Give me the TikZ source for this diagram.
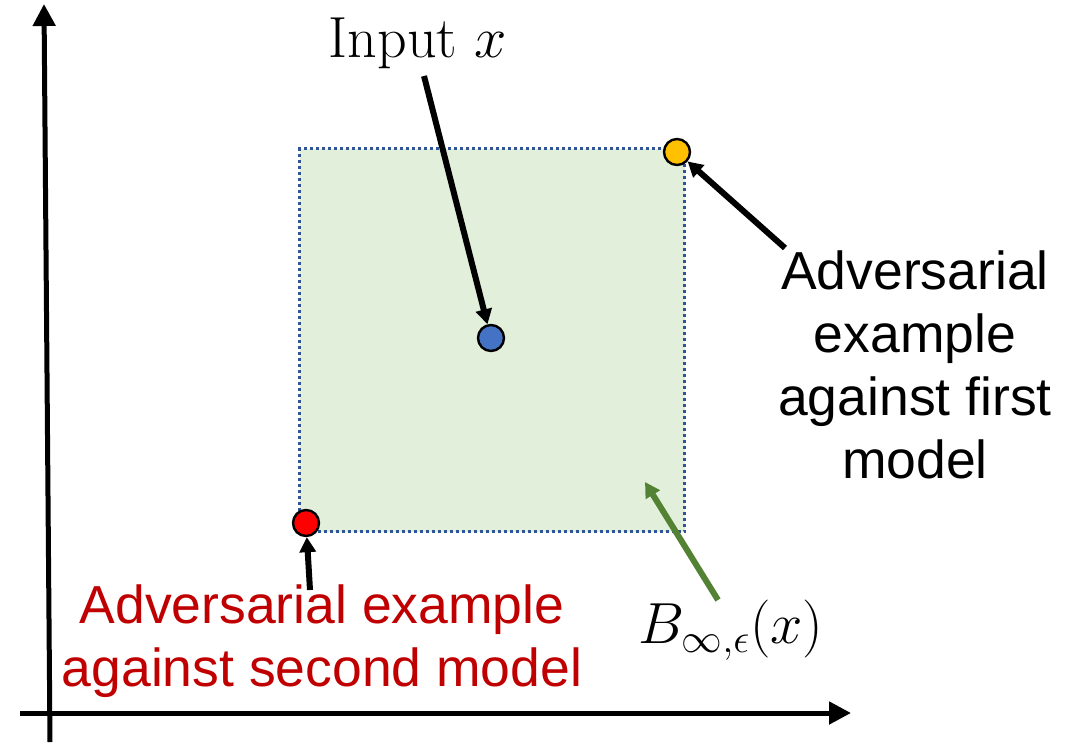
\RequirePackage{fix-cm}
\documentclass[tikz,border=0pt]{standalone}
\usepackage{fontspec}
\setsansfont{Liberation Sans}
\usetikzlibrary{arrows.meta}
\definecolor{boxfill}{HTML}{E2EFDA}
\definecolor{boxline}{HTML}{2F5597}
\definecolor{dotblue}{HTML}{4472C4}
\definecolor{dotyellow}{HTML}{FFC000}
\definecolor{dotred}{HTML}{FF0000}
\definecolor{darkred}{HTML}{C00000}
\definecolor{arrgreen}{HTML}{548235}
\tikzset{
  axisarrow/.style={line width=5pt,-{Triangle[length=22pt,width=22pt]}},
  pointer/.style={line width=6pt,-{Triangle[length=15pt,width=16pt]}},
  dotstyle/.style={circle,draw=black,line width=2.4pt,minimum size=26pt,inner sep=0pt},
  sanslabel/.style={font=\sffamily\fontsize{53.5}{63}\selectfont,align=center},
  seriflabel/.style={font=\fontsize{58}{66}\selectfont}
}
\begin{document}
\begin{tikzpicture}[x=1pt,y=-1pt]
\useasboundingbox (0,0) rectangle (1086,742);
% axes
\coordinate (yb) at (50,742);
\coordinate (yt) at (44,4);
\coordinate (xl) at (20,713);
\coordinate (xr) at (851,713);
\draw[axisarrow] (yb) -- (yt);
\draw[axisarrow] (xl) -- (xr);
% box
\node[draw=boxline,fill=boxfill,dash pattern=on 3pt off 3pt,line width=3.2pt,minimum width=385pt,minimum height=383pt,inner sep=0pt,anchor=north west] (box) at (298,147) {};
% dots
\node[dotstyle,fill=dotblue] (xin) at (491,338) {};
\node[dotstyle,fill=dotyellow] (adv1) at (677,152) {};
\node[dotstyle,fill=dotred] (adv2) at (306,523) {};
% labels
\node[seriflabel] (inlab) at (418,43) {Input $x$};
\node[sanslabel] (lab1) at (915,365) {Adversarial\\example\\against first\\model};
\node[sanslabel,text=darkred] (lab2) at (322,641) {Adversarial example\\against second model};
\node[seriflabel] (blab) at (731,630) {$B_{\infty,\epsilon}(x)$};
% pointer start coordinates
\coordinate (s0) at (424,76);
\coordinate (s1) at (785,248);
\coordinate (s2) at (310,590);
\coordinate (s3) at (718,600);
\coordinate (g3) at (645,482);
\draw[pointer] (s0) -- (xin);
\draw[pointer] (s1) -- (adv1);
\draw[pointer] (s2) -- (adv2);
\draw[pointer,arrgreen] (s3) -- (g3);
\end{tikzpicture}
\end{document}
